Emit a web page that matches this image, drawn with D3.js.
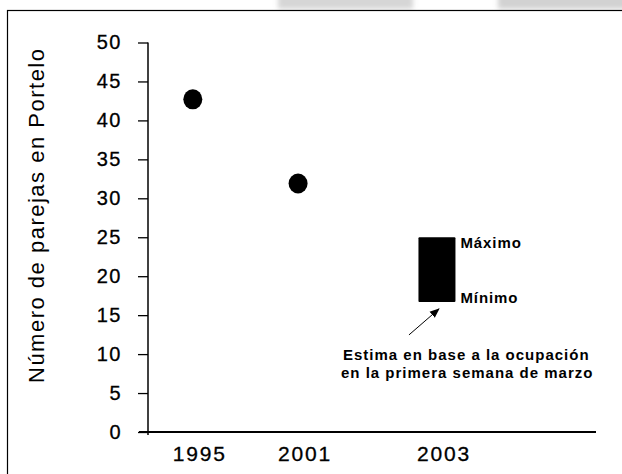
<!DOCTYPE html>
<html>
<head>
<meta charset="utf-8">
<script src="https://cdn.jsdelivr.net/npm/d3@7"></script>
<style>
  body { margin: 0; background: #fff; }
  text { font-family: "Liberation Sans", Arial, sans-serif; fill: #000; }
</style>
</head>
<body>
<div id="chart"></div>
<script>
// data
const years = ["1995", "2001", "2003"];
const xSlot = [1, 3.35, 6.45];          // category position along the axis
const pairs = [42.7, 31.9];              // point estimates for 1995, 2001
const range2003 = { min: 16.7, max: 25 };
const yTicks = [0, 5, 10, 15, 20, 25, 30, 35, 40, 45, 50];

const width = 622;
const height = 474;
const marginTop = 42.5;
const marginBottom = 42;
const marginLeft = 148;
const marginRight = 26;

const svg = d3.select("#chart").append("svg")
  .attr("width", width)
  .attr("height", height);

// scales
const x = d3.scaleLinear([0, 10], [marginLeft, width - marginRight]);
const y = d3.scaleLinear([0, 50], [height - marginBottom, marginTop]);

// faint grey smudges above the frame (from the scanned source)
const defs = svg.append("defs");
defs.append("filter").attr("id", "blur")
  .append("feGaussianBlur").attr("stdDeviation", 2.5);
svg.append("rect").attr("x", 278).attr("y", -6).attr("width", 135).attr("height", 15)
  .attr("fill", "#d6d6d6").attr("filter", "url(#blur)");
svg.append("rect").attr("x", 498).attr("y", -6).attr("width", 135).attr("height", 15)
  .attr("fill", "#d2d2d2").attr("filter", "url(#blur)");

// outer frame
svg.append("rect")
  .attr("x", 7.5).attr("y", 10.5)
  .attr("width", width).attr("height", height)
  .attr("fill", "#fff")
  .attr("stroke", "#000")
  .attr("stroke-width", 1.2);

// y axis
const yAxis = svg.append("g")
  .attr("transform", `translate(${marginLeft},0)`)
  .call(d3.axisLeft(y).tickValues(yTicks).tickSize(10).tickPadding(16).tickSizeOuter(0));
yAxis.select(".domain")
  .attr("d", `M0,${y(50)}V${y(0) + 3}`)
  .attr("stroke-width", 1.5);
yAxis.selectAll(".tick line").attr("stroke-width", 1.3);
yAxis.selectAll(".tick text")
  .attr("font-size", 20)
  .attr("letter-spacing", "1.5px")
  .attr("font-family", "Liberation Sans, Arial, sans-serif")
  .attr("fill", "#000")
  .attr("stroke", "#000")
  .attr("stroke-width", 0.3);

// x axis: plain line, labels only
svg.append("line")
  .attr("x1", marginLeft - 9).attr("x2", width - marginRight)
  .attr("y1", y(0)).attr("y2", y(0))
  .attr("stroke", "#000")
  .attr("stroke-width", 2);

svg.append("g").selectAll("text")
  .data(years)
  .join("text")
  .attr("x", (d, i) => x(xSlot[i]) + 7)
  .attr("y", y(0) + 29)
  .attr("text-anchor", "middle")
  .attr("font-size", 21)
  .attr("letter-spacing", "1.8px")
  .attr("stroke", "#000")
  .attr("stroke-width", 0.3)
  .text(d => d);

// y title
svg.append("text")
  .attr("transform", `translate(44,${(y(0) + y(50)) / 2 - 22}) rotate(-90)`)
  .attr("text-anchor", "middle")
  .attr("font-size", 22)
  .attr("letter-spacing", "1.5px")
  .text("Número de parejas en Portelo");

// dots for 1995 and 2001
svg.append("g").selectAll("ellipse")
  .data(pairs)
  .join("ellipse")
  .attr("cx", (d, i) => x(xSlot[i]))
  .attr("cy", d => y(d))
  .attr("rx", 9.5)
  .attr("ry", 10)
  .attr("fill", "#000");

// 2003 range bar
const x03 = x(xSlot[2]);
const barW = 37;
svg.append("rect")
  .attr("x", x03 - barW / 2)
  .attr("y", y(range2003.max))
  .attr("width", barW)
  .attr("height", y(range2003.min) - y(range2003.max))
  .attr("rx", 1)
  .attr("fill", "#000");

svg.append("text")
  .attr("x", x03 + barW / 2 + 5)
  .attr("y", y(range2003.max) + 11)
  .attr("font-size", 15)
  .attr("font-weight", "bold")
  .attr("letter-spacing", "0.9px")
  .text("Máximo");

svg.append("text")
  .attr("x", x03 + barW / 2 + 5)
  .attr("y", y(range2003.min) + 1)
  .attr("font-size", 15)
  .attr("font-weight", "bold")
  .attr("letter-spacing", "0.9px")
  .text("Mínimo");

// arrow to the bar
defs.append("marker")
  .attr("id", "head")
  .attr("viewBox", "0 0 10 10")
  .attr("refX", 9).attr("refY", 5)
  .attr("markerWidth", 10).attr("markerHeight", 10)
  .attr("markerUnits", "userSpaceOnUse")
  .attr("orient", "auto")
  .append("path").attr("d", "M0,1L10,5L0,9Z").attr("fill", "#000");

svg.append("line")
  .attr("x1", x03 - 28).attr("y1", y(range2003.min) + 33)
  .attr("x2", x03 + 2).attr("y2", y(range2003.min) + 7)
  .attr("stroke", "#000")
  .attr("stroke-width", 1)
  .attr("marker-end", "url(#head)");

const note = svg.append("text")
  .attr("font-size", 15)
  .attr("font-weight", "bold")
  .attr("letter-spacing", "1px");
note.append("tspan").attr("x", 343).attr("y", 360).text("Estima en base a la ocupación");
note.append("tspan").attr("x", 341).attr("y", 378).text("en la primera semana de marzo");
</script>
</body>
</html>
